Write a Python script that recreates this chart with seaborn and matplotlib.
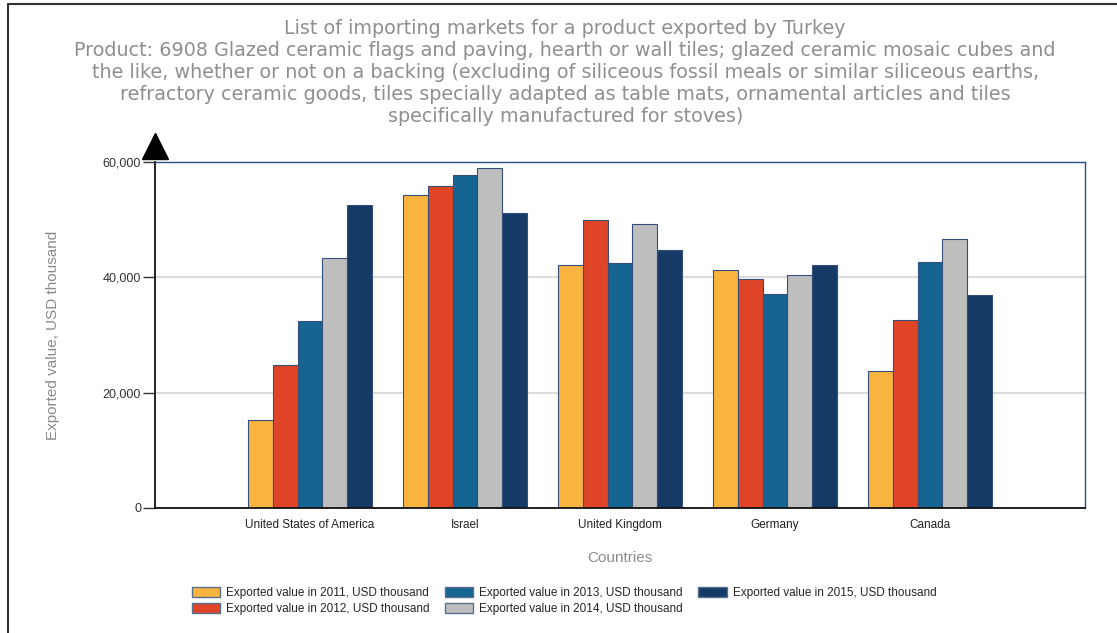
import matplotlib
matplotlib.use("Agg")
import matplotlib.pyplot as plt
import matplotlib.patches as mpatches
from matplotlib.lines import Line2D
import seaborn as sns
import pandas as pd

countries = ["United States of America", "Israel", "United Kingdom", "Germany", "Canada"]
years = ["2011", "2012", "2013", "2014", "2015"]
v2011 = [15300, 54300, 42100, 41300, 23800]
v2012 = [24800, 55800, 49900, 39700, 32600]
v2013 = [32400, 57700, 42500, 37100, 42700]
v2014 = [43300, 59000, 49300, 40400, 46600]
v2015 = [52500, 51200, 44700, 42100, 36900]
series = [v2011, v2012, v2013, v2014, v2015]
colors = ["#F9B43F", "#E04426", "#156492", "#BEBEBE", "#163A66"]
labels = [f"Exported value in {y}, USD thousand" for y in years]

rows = []
for y, vals in zip(years, series):
    for c, v in zip(countries, vals):
        rows.append({"Country": c, "Year": y, "Value": v})
df = pd.DataFrame(rows)

sns.set_style("white")
plt.rcParams["font.family"] = ["Liberation Sans", "DejaVu Sans"]

fig = plt.figure(figsize=(11.17, 6.33), dpi=100)
ax = fig.add_axes([155/1117, 1-508/633, (1085-155)/1117, (508-162)/633])

sns.barplot(data=df, x="Country", y="Value", hue="Year", order=countries,
            hue_order=years, palette=colors, edgecolor="#34507a", linewidth=0.8,
            width=0.8, ax=ax, legend=False, saturation=1)

ax.set_xlim(-1, 5)
ax.set_ylim(0, 60000)
ax.set_yticks([0, 20000, 40000, 60000])
ax.set_yticklabels([f"{t:,}" for t in [0, 20000, 40000, 60000]], fontsize=9, color="#333333")
ax.set_xticks(range(len(countries)))
ax.set_xticklabels(countries, fontsize=8.5, color="#222222")
ax.tick_params(axis="y", left=True, length=9, width=1, color="#333333", direction="out", pad=1)
ax.tick_params(axis="x", bottom=False, length=0, pad=8)
ax.yaxis.grid(True, color="#d4d4d4", linewidth=1.2)
ax.set_axisbelow(True)
for s in ["top", "right"]:
    ax.spines[s].set_color("#2d4f7f")
    ax.spines[s].set_linewidth(1)
    ax.spines[s].set_visible(True)
for s in ["left", "bottom"]:
    ax.spines[s].set_color("#111111")
    ax.spines[s].set_linewidth(1.3)
    ax.spines[s].set_visible(True)

ax.plot([0], [1.045], marker="^", markersize=19, color="black", transform=ax.transAxes, clip_on=False)

ax.set_xlabel("Countries", fontsize=11, color="#8a8a8a", labelpad=14)
ax.set_ylabel("Exported value, USD thousand", fontsize=11, color="#8a8a8a", labelpad=31)

title = ("List of importing markets for a product exported by Turkey\n"
         "Product: 6908 Glazed ceramic flags and paving, hearth or wall tiles; glazed ceramic mosaic cubes and\n"
         "the like, whether or not on a backing (excluding of siliceous fossil meals or similar siliceous earths,\n"
         "refractory ceramic goods, tiles specially adapted as table mats, ornamental articles and tiles\n"
         "specifically manufactured for stoves)")
fig.text(0.506, 1-19/633, title, ha="center", va="top", fontsize=13.8, color="#8f8f8f",
         family=["DejaVu Sans"], linespacing=1.2)

handles = [mpatches.Patch(facecolor=c, edgecolor="#5a6f90", linewidth=1) for c in colors]
fig.legend(handles, labels, loc="center", bbox_to_anchor=(0.505, 1-601/633), ncol=3,
           frameon=False, fontsize=8.5, handlelength=2.4, handleheight=0.9,
           columnspacing=1.3, handletextpad=0.5, labelspacing=0.38)

fig.add_artist(Line2D([8/1117, 8/1117], [0, 1-4/633], color="#333333", linewidth=1.5))
fig.add_artist(Line2D([8/1117, 1], [1-4/633, 1-4/633], color="#333333", linewidth=1.5))

fig.savefig("out.png", dpi=100)
